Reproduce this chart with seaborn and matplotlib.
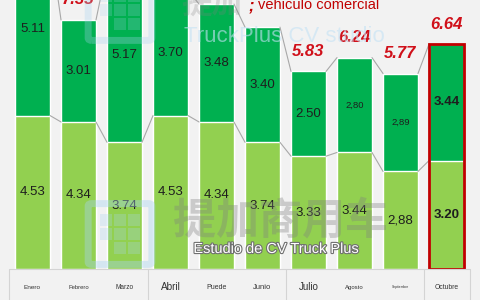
import matplotlib
matplotlib.use("Agg")
import matplotlib.pyplot as plt
import matplotlib.patheffects as pe
from matplotlib.lines import Line2D
from matplotlib.patches import Rectangle, FancyBboxPatch
import seaborn as sns

# data
months = ["Enero", "Febrero", "Marzo", "Abril", "Puede", "Junio",
          "Julio", "Agosto", "Septiembre", "Octubre"]
lower = [4.53, 4.34, 3.74, 4.53, 4.34, 3.74, 3.33, 3.44, 2.88, 3.20]
upper = [5.11, 3.01, 5.17, 3.70, 3.48, 3.40, 2.50, 2.80, 2.89, 3.44]
lower_text = ["4.53", "4.34", "3.74", "4.53", "4.34", "3.74", "3.33", "3.44", "2,88", "3.20"]
upper_text = ["5.11", "3.01", "5.17", "3.70", "3.48", "3.40", "2.50", "2,80", "2,89", "3.44"]
total_text = ["", "7.35", "", "", "", "", "5.83", "6.24", "5.77", "6.64"]
totals = [a + b for a, b in zip(lower, upper)]

bg = "#f2f2f2"
dark = "#00b050"
light = "#92d050"
red = "#d0101a"

sns.set_style("white")
plt.rcParams["font.family"] = ["Liberation Sans", "Noto Sans CJK SC", "DejaVu Sans"]

fig = plt.figure(figsize=(4.8, 3), dpi=100, facecolor=bg)
ax = fig.add_axes([0, 31 / 300, 1, 269 / 300])
ax.set_facecolor(bg)

w = 0.76
sns.barplot(x=months, y=totals, order=months, color=dark, saturation=1,
            width=w, edgecolor="white", linewidth=1, ax=ax)
sns.barplot(x=months, y=lower, order=months, color=light, saturation=1,
            width=w, edgecolor="white", linewidth=1, ax=ax)

# series lines between bars
for i in range(len(months) - 1):
    for vals in (lower, totals):
        ax.plot([i + w / 2, i + 1 - w / 2], [vals[i], vals[i + 1]],
                color="#a8a8a8", lw=0.8, zorder=1)

# value labels
last = len(months) - 1
for i in range(len(months)):
    weight = "bold" if i == last else "normal"
    small = upper_text[i].find(",") >= 0
    ax.text(i, lower[i] + upper[i] / 2, upper_text[i], ha="center", va="center",
            fontsize=6.8 if small else 9.5, color="#1e1e1e", fontweight=weight)
    ax.text(i, lower[i] / 2, lower_text[i], ha="center", va="center",
            fontsize=9.5, color="#1e1e1e", fontweight=weight)
    if total_text[i]:
        ax.annotate(total_text[i], (i, totals[i]), xytext=(0, 9),
                    textcoords="offset points", ha="center", va="bottom",
                    fontsize=12, color=red, fontweight="bold", fontstyle="italic")

# highlighted last bar
ax.add_patch(Rectangle((last - w / 2, 0), w, totals[last], fill=False,
                       edgecolor="#c00000", lw=2, zorder=5))

ax.set_xlim(-32.5 / 46, (480 - 32.5) / 46)
ax.set_ylim(0, 7.94)
ax.set_yticks([])
ax.set_xlabel("")
ax.set_ylabel("")
sns.despine(ax=ax, left=True, bottom=True)

# month labels in the table below
label_sizes = [4.6, 4.2, 4.7, 7.2, 5.0, 5.5, 7.0, 4.3, 2.4, 4.9]
ax.tick_params(axis="x", length=0, pad=13)
for lab, fs in zip(ax.get_xticklabels(), label_sizes):
    lab.set_fontsize(fs)
    lab.set_va("center")
    lab.set_color("#333333")

line_col = "#d4d4d4"
fig.add_artist(Line2D([9 / 480, 470 / 480], [31 / 300, 31 / 300], color=line_col, lw=0.8))
for px in (9, 148, 286, 424, 470):
    fig.add_artist(Line2D([px / 480, px / 480], [0, 31 / 300], color=line_col, lw=0.8))

# watermark logos (rounded outline with small squares inside)
def logo(x0, y0, size, alpha):
    fig.add_artist(FancyBboxPatch((x0 / 480, y0 / 300), size / 480, size / 300,
                                  boxstyle="round,pad=0.008", fc="none", ec="#a8d4f0",
                                  lw=5, alpha=alpha, transform=fig.transFigure))
    step = size / 4
    for gx in range(3):
        for gy in range(3):
            if gx == 0 and gy == 0:
                continue
            fig.add_artist(Rectangle(((x0 + step * 0.6 + gx * step) / 480,
                                      (y0 + step * 0.6 + gy * step) / 300),
                                     step * 0.8 / 480, step * 0.8 / 300,
                                     fc="#a8d4f0", ec="none", alpha=alpha * 0.7,
                                     transform=fig.transFigure))

logo(92, 38, 56, 0.4)
logo(92, 262, 56, 0.3)

fig.text(280 / 480, 1 - 222 / 300, "提加商用车", fontsize=31, fontweight="bold",
         color="#808080", alpha=0.35, ha="center", va="center")
fig.text(212 / 480, 1 - 6 / 300, "提加", fontsize=22, fontweight="bold",
         color="#808080", alpha=0.25, ha="center", va="center")
fig.text(284 / 480, 1 - 37 / 300, "TruckPlus CV studio", fontsize=16,
         color="#c4e2f5", alpha=0.6, ha="center", va="center")
fig.text(277 / 480, 1 - 249 / 300, "Estudio de CV Truck Plus", fontsize=10.5,
         color="white", ha="center", va="center",
         path_effects=[pe.withStroke(linewidth=1.6, foreground="#707070")])

# title fragment at top
fig.text(249 / 480, 1 - 6 / 300, ";", fontsize=12, fontweight="bold",
         fontstyle="italic", color="#c00000", ha="left", va="center")
fig.text(258 / 480, 1 - 5 / 300, "vehiculo comercial", fontsize=10.5,
         color="#c00000", ha="left", va="center")

fig.savefig("out.png", dpi=100, facecolor=bg)
